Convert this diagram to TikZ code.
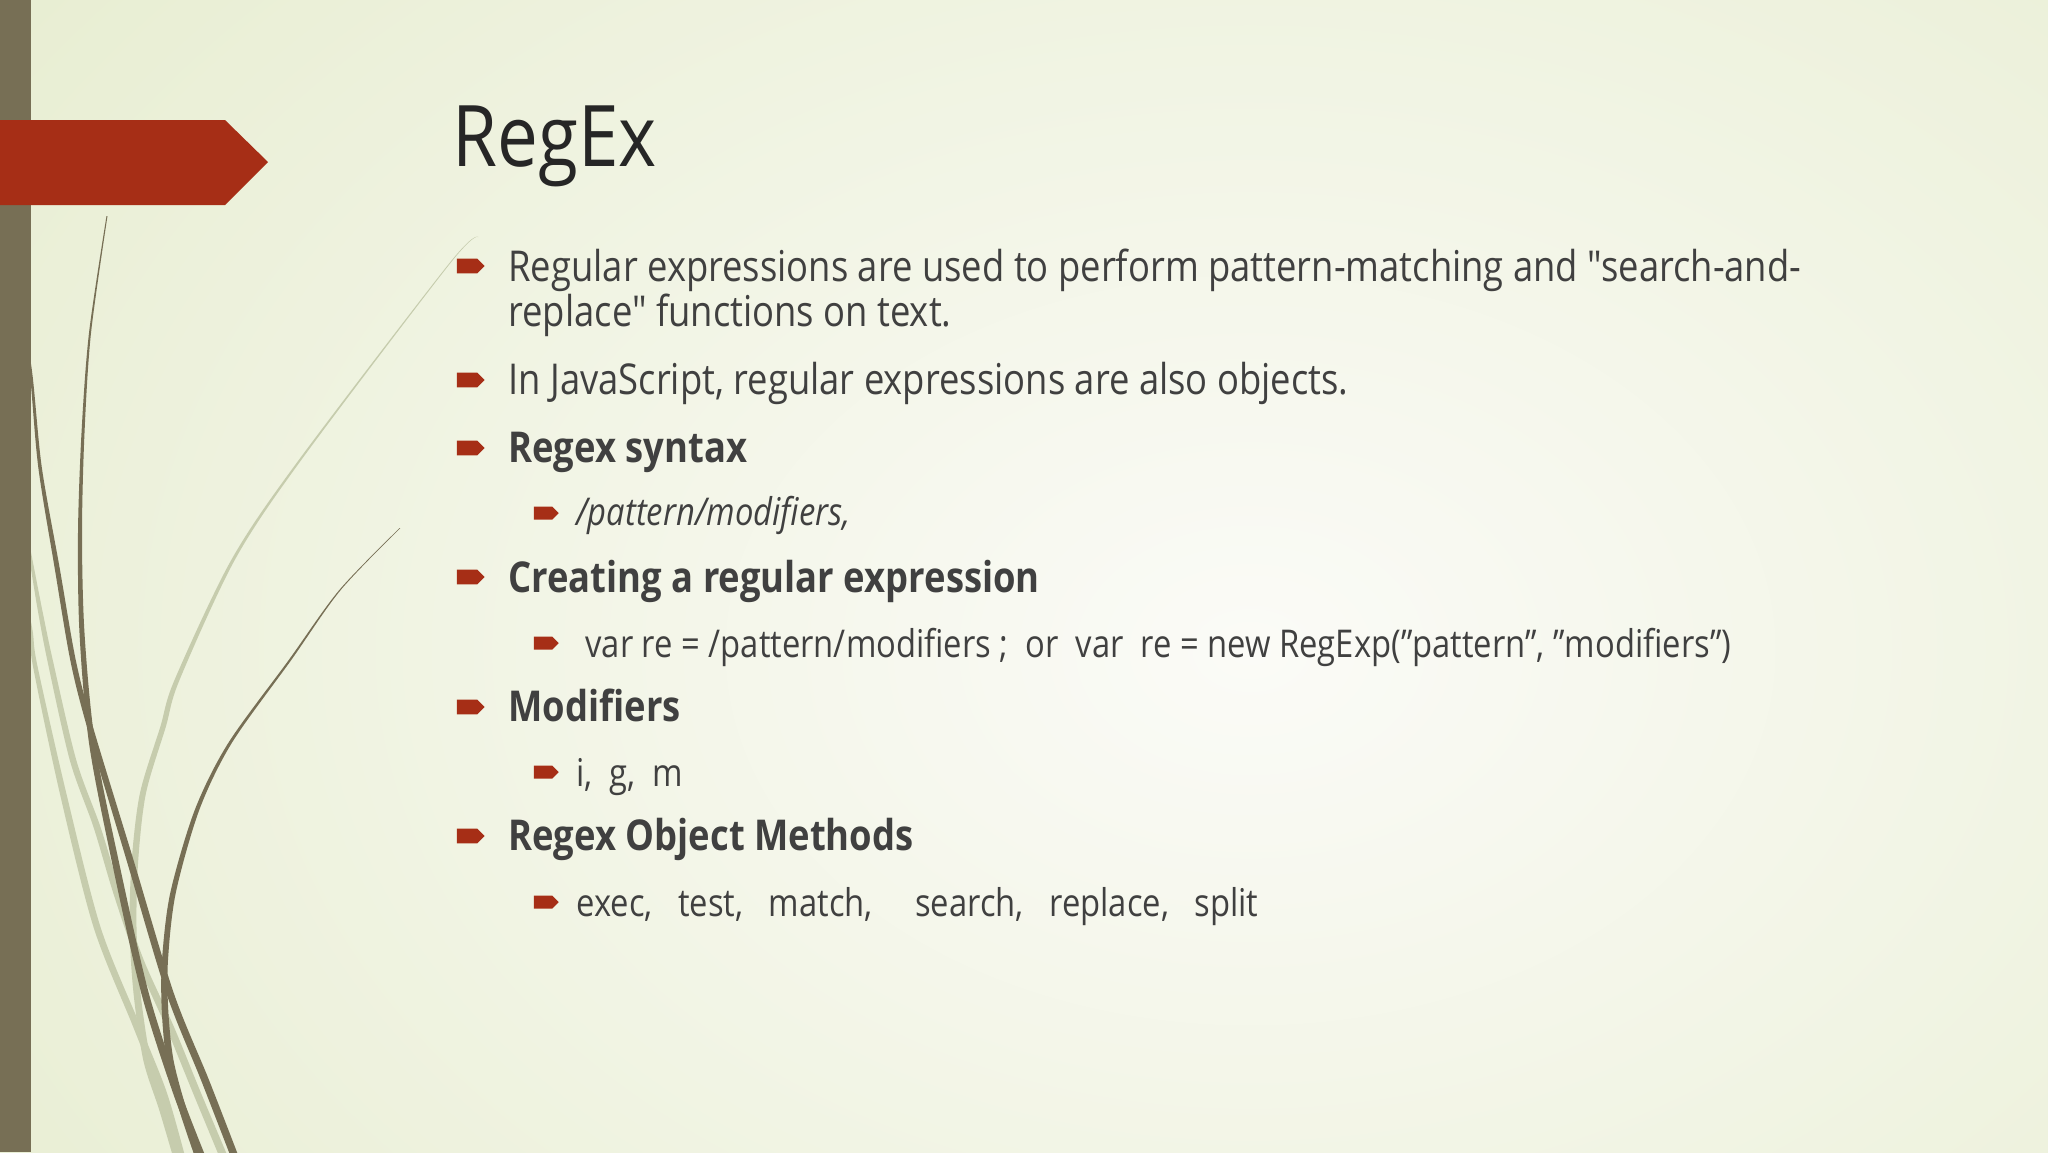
\documentclass[tikz,border=0pt]{standalone}
\usepackage{fontspec}
\setmainfont{Open Sans}[FakeStretch=0.856, Ligatures=TeXOff]
\usetikzlibrary{shapes.symbols}

\definecolor{barbrown}{RGB}{119,111,85}
\definecolor{bannerred}{RGB}{166,46,22}
\definecolor{lightline}{RGB}{198,204,173}
\definecolor{bgout}{RGB}{225,233,197}
\definecolor{bgin}{RGB}{251,251,247}
\definecolor{bodygray}{RGB}{64,64,64}
\definecolor{titlegray}{RGB}{38,38,38}

\tikzset{
  slidetitle/.style={anchor=base west, inner sep=0pt, text=titlegray, font=\fontsize{40}{48}\selectfont},
  lvlone/.style={anchor=base west, inner sep=0pt, text=bodygray, font=\fontsize{20}{24}\selectfont},
  lvlonebold/.style={lvlone, font=\fontsize{20}{24}\selectfont\bfseries},
  lvltwo/.style={anchor=base west, inner sep=0pt, text=bodygray, font=\fontsize{18}{22}\selectfont},
  mainmark/.style={shape=signal, signal to=east, fill=bannerred, inner sep=0pt, outer sep=0pt, minimum width=13.1bp, minimum height=7bp},
  submark/.style={mainmark, minimum width=11.7bp, minimum height=6.1bp},
}

\begin{document}
\begin{tikzpicture}[x=0.46875bp, y=-0.46875bp, line join=round]

  \useasboundingbox (0,0) rectangle (2048,1152);

  % background
  \fill[bgout] (0,0) rectangle (2048,1152);
  \begin{scope}
    \clip (0,0) rectangle (2048,1152);
    \shade[inner color=bgin, outer color=bgout] (1250,650) ellipse [x radius=2100, y radius=1500];
  \end{scope}

  % light strands
  \fill[lightline] plot[smooth] coordinates {(477.65,237) (449.5,263) (298.75,460) (231.25,560) (174.5,680) (160.25,727) (140,793) (131.75,860) (129.5,927) (133.5,993) (143.25,1060) (159.25,1110) (174,1160)}
    -- plot[smooth] coordinates {(182,1160) (166.75,1110) (150.75,1060) (140.5,993) (136.5,927) (138.25,860) (146,793) (165.75,727) (179.5,680) (234.75,560) (301.25,460) (450.5,263) (478.35,237)} -- cycle;
  \fill[lightline] plot[smooth] coordinates {(19.25,500) (29.5,560) (37.75,610) (47.25,660) (69.75,760) (93.5,827) (113.25,893) (136.25,960) (166,1027) (193,1093) (220.75,1160)}
    -- plot[smooth] coordinates {(229.25,1160) (201,1093) (174,1027) (143.75,960) (120.75,893) (100.5,827) (76.25,760) (52.75,660) (42.25,610) (32.5,560) (20.75,500)} -- cycle;
  \fill[lightline] plot[smooth] coordinates {(21.25,580) (29.5,630) (32.75,665) (59.75,793) (93.5,927) (133.25,1027) (159,1093) (178,1160)}
    -- plot[smooth] coordinates {(186,1160) (167,1093) (140.75,1027) (100.5,927) (66.25,793) (37.25,665) (32.5,630) (22.75,580)} -- cycle;

  % dark strands
  \fill[barbrown] plot[smooth] coordinates {(106.5,216) (89,333) (81.5,433) (78,533) (79.5,633) (89,743) (111.5,860) (141.25,993) (173,1093) (199,1160)}
    -- plot[smooth] coordinates {(207,1160) (181,1093) (148.75,993) (118.5,860) (95,743) (84.5,633) (82,533) (84.5,433) (91,333) (107.5,216)} -- cycle;
  \fill[barbrown] plot[smooth] coordinates {(19.25,300) (29.75,373) (38.25,467) (54.5,567) (70.25,660) (87,727) (126.5,860) (166.25,993) (201,1080) (232,1160)}
    -- plot[smooth] coordinates {(240,1160) (209,1080) (173.75,993) (133.5,860) (93,727) (75.75,660) (59.5,567) (41.75,467) (32.25,373) (20.75,300)} -- cycle;
  \fill[barbrown] plot[smooth] coordinates {(399.65,528) (339.3,590) (288.75,660) (228.25,743) (194.75,810) (170.25,893) (162,960) (161.75,1010) (166.5,1060) (179.25,1110) (196,1160)}
    -- plot[smooth] coordinates {(204,1160) (186.75,1110) (173.5,1060) (168.25,1010) (168,960) (175.75,893) (199.25,810) (231.75,743) (291.25,660) (340.7,590) (400.35,528)} -- cycle;

  % side bar and banner
  \fill[barbrown] (0,0) rectangle (31,1152);
  \fill[bannerred] (0,120) -- (225,120) -- (268,162) -- (225,205) -- (0,205) -- cycle;

  % title
  \node[slidetitle] (title) at (452,166) {RegEx};

  % bullet marks
  \foreach \y [count=\i] in {266,380,448,577,707,836}
    \node[mainmark] (mark\i) at (467,\y) {};
  \foreach \y [count=\i] in {513,643,772,902}
    \node[submark] (submark\i) at (543,\y) {};

  % first level
  \node[lvlone] (intro) at (508,281) {Regular expressions are used to perform pattern-matching and "search-and-};
  \node[lvlone] (introcont) at (508,326) {replace" functions on text.};
  \node[lvlone] (jsnote) at (508,394) {In JavaScript, regular expressions are also objects.};
  \node[lvlonebold] (syntax) at (508,462) {Regex syntax};
  \node[lvlonebold] (create) at (508,592) {Creating a regular expression};
  \node[lvlonebold] (mods) at (508,721) {Modifiers};
  \node[lvlonebold] (methods) at (508,850) {Regex Object Methods};

  % second level
  \node[lvltwo, font=\fontsize{18}{22}\selectfont\itshape] (syntaxform) at (576,525) {/pattern/modifiers,};
  \node[lvltwo] (createform) at (585,657) {var re = /pattern/modifiers ;~~or~~var~~re = new RegExp(”pattern”, ”modifiers”)};
  \node[lvltwo] (modlist) at (576,786) {i,~~g,~~m};
  \node[lvltwo] (methodlist) at (576,916) {exec,~~~test,~~~match,~~~~~search,~~~replace,~~~split};

\end{tikzpicture}
\end{document}
